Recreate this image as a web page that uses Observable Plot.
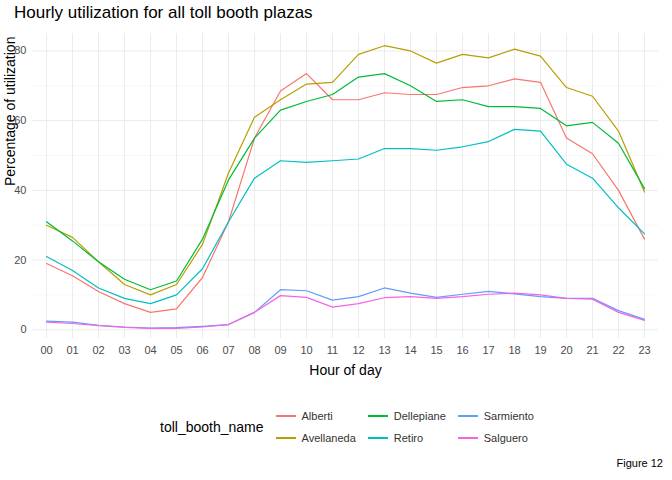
<!DOCTYPE html>
<html><head>
<script src="https://cdn.jsdelivr.net/npm/d3@7"></script>
<script src="https://cdn.jsdelivr.net/npm/@observablehq/plot@0.6"></script>
<style>
body{margin:0;font-family:"Liberation Sans",Arial,sans-serif;background:#fff;width:672px;}
#title{font-size:17px;color:#000;padding:3px 0 0 14px;height:25px;}
#legend{display:flex;align-items:center;margin-left:160px;margin-top:14px;height:60px;font-size:11px;color:#333;}
#legend .ttl{font-size:14px;color:#000;margin-right:12px;}
#legend .grid{display:grid;grid-template-columns:repeat(3,auto);grid-template-rows:repeat(2,22px);grid-auto-flow:column;column-gap:12px;}
#legend .item{display:flex;align-items:center;}
#legend .sw{width:20px;height:2px;margin-right:6px;}
#cap{text-align:right;font-size:11px;padding-right:9px;margin-top:0px;}
</style></head><body>
<div id="title">Hourly utilization for all toll booth plazas</div>
<div id="chart"></div>
<div id="legend"></div>
<div id="cap">Figure 12</div>
<script>
const hours = d3.range(24).map(h => String(h).padStart(2, "0"));
const booths = ["Alberti", "Avellaneda", "Dellepiane", "Retiro", "Sarmiento", "Salguero"];
const colors = ["#F8766D", "#B79F00", "#00BA38", "#00BFC4", "#619CFF", "#F564E3"];
const alberti = [19,15.5,11,7.5,5,6,15,31,55,68.5,73.5,66,66,68,67.5,67.5,69.5,70,72,71,55,50.5,40,26];
const avellaneda = [30,26.5,19.5,13,10,13,24.5,45,61,66,70.5,71,79,81.5,80,76.5,79,78,80.5,78.5,69.5,67,57,39.5];
const dellepiane = [31,25.5,19.5,14.5,11.5,14,26,43,55,63,65.5,67.5,72.5,73.5,70,65.5,66,64,64,63.5,58.5,59.5,53.5,40.5];
const retiro = [21,17,12,9,7.5,10,17.5,31,43.5,48.5,48,48.5,49,52,52,51.5,52.5,54,57.5,57,47.5,43.5,35,27.5];
const sarmiento = [2.5,2.2,1.3,0.8,0.5,0.6,1,1.5,5,11.5,11.2,8.5,9.5,12,10.5,9.3,10.2,11,10.3,9.5,9,9,5.5,3];
const salguero = [2.2,1.8,1.2,0.7,0.4,0.4,0.8,1.5,5,9.8,9.3,6.5,7.5,9.2,9.5,9,9.5,10.2,10.5,10,9,8.8,5,2.7];
const series = [alberti, avellaneda, dellepiane, retiro, sarmiento, salguero];

const data = series.flatMap((vals, i) => vals.map((v, j) => ({booth: booths[i], hour: hours[j], value: v})));

const chart = Plot.plot({
  width: 672, height: 355,
  marginLeft: 32, marginRight: 14, marginTop: 5, marginBottom: 45,
  style: {fontFamily: "Liberation Sans, Arial, sans-serif", fontSize: "11px", color: "#4d4d4d"},
  x: {type: "point", domain: hours, padding: 0.3, label: null},
  y: {domain: [-2.5, 85], label: null},
  color: {domain: booths, range: colors},
  marks: [
    Plot.gridX(hours, {stroke: "#ebebeb", strokeOpacity: 1, strokeWidth: 1}),
    Plot.gridY([10, 30, 50, 70], {stroke: "#f2f2f2", strokeOpacity: 1, strokeWidth: 0.6}),
    Plot.gridY([0, 20, 40, 60, 80], {stroke: "#ebebeb", strokeOpacity: 1, strokeWidth: 1}),
    Plot.axisX({tickSize: 0, tickPadding: 8, fontSize: 11}),
    Plot.axisY([0, 20, 40, 60, 80], {tickSize: 0, tickPadding: 6, fontSize: 11}),
    Plot.text(["Hour of day"], {frameAnchor: "bottom", dy: 36, fill: "#000", fontSize: 14}),
    Plot.text(["Percentage of utilization"], {frameAnchor: "left", dx: -22, rotate: -90, fill: "#000", fontSize: 14}),
    Plot.line(data, {x: "hour", y: "value", stroke: "booth", z: "booth", strokeWidth: 1.2})
  ]
});
chart.style.overflow = "visible";
document.getElementById("chart").append(chart);

const lg = document.getElementById("legend");
lg.innerHTML = '<span class="ttl">toll_booth_name</span><div class="grid">' +
  booths.map((b, i) => `<div class="item"><span class="sw" style="background:${colors[i]}"></span>${b}</div>`).join("") + "</div>";
</script>
</body></html>
